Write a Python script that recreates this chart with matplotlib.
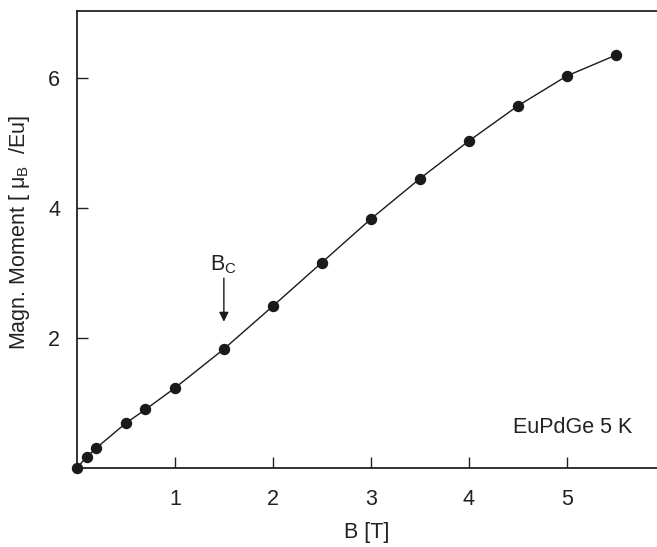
import matplotlib
matplotlib.use("Agg")
import matplotlib.pyplot as plt

plt.rcParams['font.family'] = ['Liberation Sans', 'DejaVu Sans']
plt.rcParams['mathtext.default'] = 'regular'

B = [0, 0.1, 0.2, 0.5, 0.7, 1.0, 1.5, 2.0, 2.5, 3.0, 3.5, 4.0, 4.5, 5.0, 5.5]
M = [0, 0.17, 0.31, 0.69, 0.90, 1.23, 1.83, 2.49, 3.16, 3.83, 4.45, 5.03, 5.57, 6.03, 6.35]
xticks = [1, 2, 3, 4, 5]
yticks = [2, 4, 6]
Bc = 1.5

fs = 15.5
fig = plt.figure(figsize=(6.57, 5.47), dpi=100)
ax = fig.add_axes([0.117, 0.1444, 0.883, 0.8356])
ax.plot(B, M, "-", color="#1a1a1a", lw=1.0, marker="o", ms=7.2,
        mfc="#1a1a1a", mec="#1a1a1a", clip_on=False, zorder=3)

ax.annotate("", xy=(Bc, 2.25), xytext=(Bc, 2.92),
            arrowprops=dict(arrowstyle="-|>", color="#1a1a1a", lw=1.0,
                            mutation_scale=14, shrinkA=0, shrinkB=0))
ax.text(Bc, 3.12, "B$_\\mathregular{C}$", ha="center", va="center", fontsize=fs, color="#222222")
ax.text(5.67, 0.63, "EuPdGe 5 K", ha="right", va="center", fontsize=fs, color="#222222")

ax.set_xlim(0, 5.92)
ax.set_ylim(0, 7.03)
ax.set_xticks(xticks)
ax.set_yticks(yticks)
ax.tick_params(direction="in", length=8, width=1.0, labelsize=fs, colors="#222222")
ax.tick_params(axis="x", pad=15)
ax.tick_params(axis="y", pad=12)
ax.spines["right"].set_visible(False)
for s in ["left", "bottom", "top"]:
    ax.spines[s].set_linewidth(1.3)
    ax.spines[s].set_color("#222222")

ax.set_xlabel("B [T]", fontsize=fs, color="#222222", labelpad=9)
ax.set_ylabel("Magn. Moment [ μ$_\\mathregular{B}$  /Eu]", fontsize=fs, color="#222222", labelpad=12)
ax.yaxis.label.set_y(0.515)

fig.savefig("out.png", dpi=100)
